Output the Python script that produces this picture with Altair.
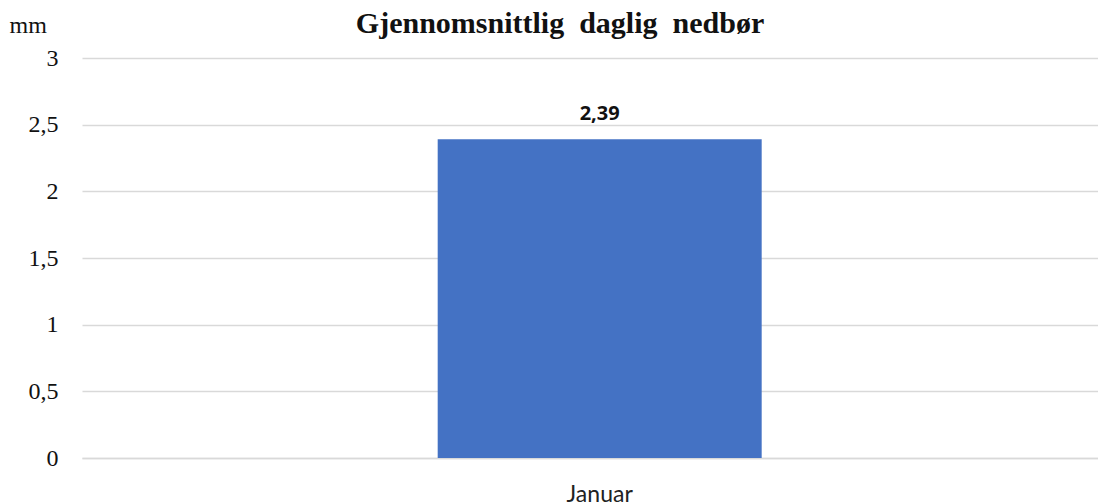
import altair as alt
import pandas as pd

months = ["Januar"]
precip = [2.39]
labels = ["2,39"]
y_ticks = [0, 0.5, 1, 1.5, 2, 2.5, 3]

df = pd.DataFrame({"month": months, "value": precip, "label": labels})

base = alt.Chart(df)

bars = base.mark_bar(color="#4472C4").encode(
    x=alt.X(
        "month:N",
        title=None,
        scale=alt.Scale(paddingInner=0.0636, paddingOuter=1, align=0.514),
        axis=alt.Axis(
            labelAngle=0,
            labelFont="Lato",
            labelFontSize=23,
            labelColor="#222222",
            labelBaseline="alphabetic",
            labelPadding=43,
            ticks=False,
            domain=True,
            domainColor="#d9d9d9",
            domainWidth=1.5,
            grid=False,
        ),
    ),
    y=alt.Y(
        "value:Q",
        scale=alt.Scale(domain=[0, 3]),
        axis=alt.Axis(
            values=y_ticks,
            labelExpr="replace(format(datum.value, ''), '.', ',')",
            labelFont="Liberation Serif",
            labelFontSize=24,
            labelColor="#111111",
            labelPadding=24,
            ticks=False,
            domain=False,
            grid=True,
            gridColor="#d9d9d9",
            gridWidth=1.5,
            title="mm",
            titleAngle=0,
            titleAlign="left",
            titleBaseline="alphabetic",
            titleX=-73,
            titleY=-26,
            titleFont="Liberation Serif",
            titleFontSize=24,
            titleFontWeight="normal",
            titleColor="#111111",
        ),
    ),
)

text = base.mark_text(
    font="Open Sans",
    fontSize=20,
    fontWeight="bold",
    baseline="alphabetic",
    dy=-19,
    color="#111111",
).encode(x="month:N", y="value:Q", text="label:N")

chart = (
    (bars + text)
    .properties(
        width=1016,
        height=400,
        title=alt.TitleParams(
            "Gjennomsnittlig\u00a0 daglig\u00a0 nedbør",
            font="Liberation Serif",
            fontSize=30,
            fontWeight="bold",
            color="#111111",
            anchor="middle",
            dx=-30,
            dy=43,
            offset=17,
        ),
        padding={"left": 74, "top": 50, "right": 0, "bottom": 46},
        autosize=alt.AutoSizeParams(type="none"),
    )
    .configure(background="white")
    .configure_view(stroke="transparent", strokeWidth=0)
)

chart.save("out.html", embed_options={"renderer": "svg", "actions": False})
